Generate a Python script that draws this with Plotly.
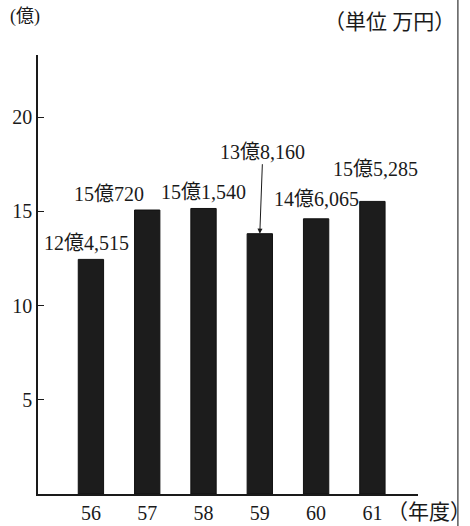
import plotly.graph_objects as go

# 年度別の金額（億円単位）
years = ["56", "57", "58", "59", "60", "61"]
values = [12.4515, 15.0720, 15.1540, 13.8160, 14.6065, 15.5285]
value_labels = ["12億4,515", "15億720", "15億1,540", "13億8,160", "14億6,065", "15億5,285"]
y_ticks = [5, 10, 15, 20]

FONT = "Liberation Serif, Noto Sans CJK JP, serif"
INK = "#1a1a1a"

fig = go.Figure(
    go.Bar(
        x=years,
        y=values,
        width=0.45,
        marker=dict(color="#1c1c1c", line=dict(color="#111111", width=1)),
        hoverinfo="skip",
    )
)

# 各棒の上に金額ラベル（59年度は引き出し線付き）
label_shift = {"56": -4, "57": -38, "58": 0, "60": 0, "61": 3}
label_lift = {"60": 4, "61": 16}
for i, (yr, v, txt) in enumerate(zip(years, values, value_labels)):
    if yr == "59":
        fig.add_annotation(
            x=i, y=v, text=txt, showarrow=True,
            ax=3, ay=-82, arrowhead=2, arrowsize=1, arrowwidth=1,
            arrowcolor=INK, font=dict(family=FONT, size=20, color=INK),
        )
    else:
        fig.add_annotation(
            x=i, y=v, text=txt, showarrow=False,
            yanchor="bottom", xshift=label_shift.get(yr, 0),
            yshift=3 + label_lift.get(yr, 0),
            font=dict(family=FONT, size=20, color=INK),
        )

# 単位・軸見出し
fig.add_annotation(xref="paper", yref="paper", x=-0.079, y=1.087,
                   xanchor="left", yanchor="middle",
                   text="(億)", showarrow=False,
                   font=dict(family=FONT, size=18, color=INK))
fig.add_annotation(xref="paper", yref="paper", x=1.103, y=1.075,
                   xanchor="right", yanchor="middle",
                   text="（単位 万円）", showarrow=False,
                   font=dict(family=FONT, size=21, color=INK))
fig.add_annotation(xref="paper", yref="paper", x=0.912, y=-0.041,
                   xanchor="left", yanchor="middle",
                   text="（年度）", showarrow=False,
                   font=dict(family=FONT, size=21, color=INK))

# 右端の枠線
fig.add_shape(type="line", xref="paper", yref="paper",
              x0=1.105, x1=1.105, y0=-0.08, y1=1.13,
              line=dict(color="#333333", width=1.2))

fig.update_layout(
    width=470, height=526,
    margin=dict(l=38, r=52, t=55, b=32),
    paper_bgcolor="white", plot_bgcolor="white",
    showlegend=False,
    font=dict(family=FONT, color=INK),
)
fig.update_xaxes(
    type="category", automargin=False,
    range=[-0.94, 5.81], showgrid=False, zeroline=False,
    showline=True, linecolor=INK, linewidth=1.5,
    ticks="",
    tickfont=dict(family=FONT, size=20, color=INK),
)
fig.update_yaxes(
    automargin=False,
    range=[0, 23.3], showgrid=False, zeroline=False,
    showline=True, linecolor=INK, linewidth=1.5,
    tickvals=y_ticks, ticks="inside", ticklen=6, tickcolor=INK,
    tickfont=dict(family=FONT, size=20, color=INK),
)

fig.write_html("out.html")
